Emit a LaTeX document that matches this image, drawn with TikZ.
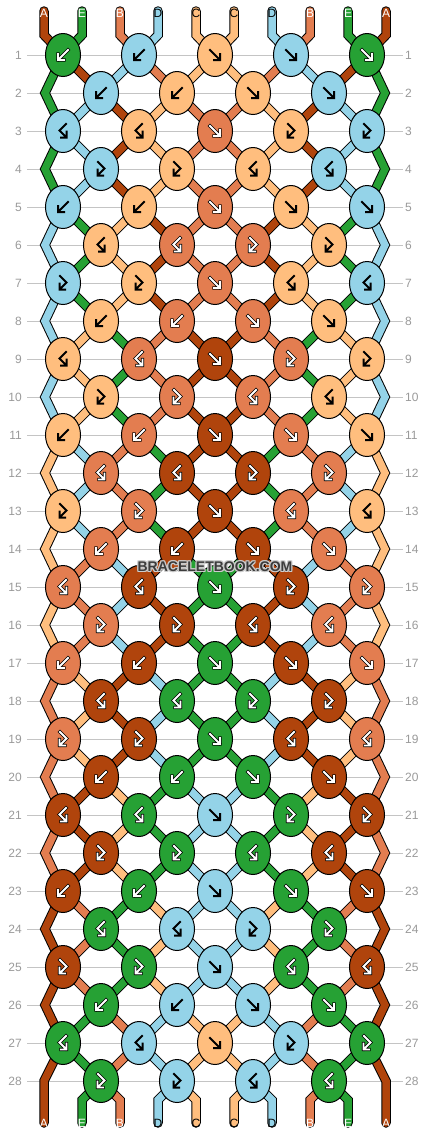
\documentclass[tikz,border=0pt]{standalone}
\usepackage{fontspec}
\setmainfont{Liberation Sans}
\usetikzlibrary{positioning,shapes.geometric}
\definecolor{colA}{HTML}{B0440C}
\definecolor{colE}{HTML}{26A134}
\definecolor{colB}{HTML}{E37D50}
\definecolor{colD}{HTML}{94D3E8}
\definecolor{colC}{HTML}{FFBE7E}
\definecolor{gridgray}{HTML}{C4C4C4}
\definecolor{numgray}{HTML}{9A9A9A}
\definecolor{brandgray}{HTML}{3C3C3C}
\tikzset{
  knot/.style={ellipse, draw=black, line width=1pt, minimum width=35pt, minimum height=43pt, inner sep=0pt},
  wireback/.style={draw=black, line width=9.5pt, line cap=round},
  wirefill/.style={draw=#1, line width=7.5pt, line cap=round},
  gridline/.style={draw=gridgray, line width=1pt},
  rownum/.style={text=numgray, inner sep=0pt, font=\fontsize{12}{12}\selectfont},
  tag/.style={inner sep=0pt, font=\fontsize{12}{12}\selectfont},
  tagA/.style={text=white}, tagE/.style={text=white}, tagB/.style={text=white},
  tagD/.style={text=black}, tagC/.style={text=black},
  lightink/.style={draw=white, line width=1.8pt, line cap=rect,
    preaction={draw=black, line width=3.4pt, line cap=rect}},
  darkink/.style={draw=black, line width=2pt, line cap=rect},
  inkA/.style={lightink}, inkE/.style={lightink}, inkB/.style={lightink},
  inkD/.style={darkink}, inkC/.style={darkink},
  brandtext/.style={inner sep=0pt, font=\bfseries\fontsize{14}{14}\selectfont}
}
\newcommand\glyphf{(-5,-5) -- (4.5,4.5) (5,-1) -- (5,5) -- (-1,5)}
\newcommand\glyphb{(5,-5) -- (-4.5,4.5) (-5,-1) -- (-5,5) -- (1,5)}
\newcommand\glyphfb{(-3,-7) -- (3.5,-0.5) -- (-3,6) (-3.5,0.5) -- (-3.5,6.5) -- (2,6.5)}
\newcommand\glyphbf{(3,-7) -- (-3.5,-0.5) -- (3,6) (3.5,0.5) -- (3.5,6.5) -- (-2,6.5)}
\newcommand\strands[1]{%
  \foreach \r/\s in {0/{A,E,B,D,C,C,D,B,E,A}, 1/{E,A,D,B,C,C,B,D,A,E},
      2/{E,D,A,C,B,B,C,A,D,E}, 3/{E,D,A,C,B,B,C,A,D,E}, 4/{E,D,A,C,B,B,C,A,D,E},
      5/{D,E,C,A,B,B,A,C,E,D}, 6/{D,E,C,A,B,B,A,C,E,D}, 7/{D,E,C,A,B,B,A,C,E,D},
      8/{D,C,E,B,A,A,B,E,C,D}, 9/{D,C,E,B,A,A,B,E,C,D}, 10/{D,C,E,B,A,A,B,E,C,D},
      11/{C,D,B,E,A,A,E,B,D,C}, 12/{C,D,B,E,A,A,E,B,D,C}, 13/{C,D,B,E,A,A,E,B,D,C},
      14/{C,B,D,A,E,E,A,D,B,C}, 15/{C,B,D,A,E,E,A,D,B,C}, 16/{C,B,D,A,E,E,A,D,B,C},
      17/{B,C,A,D,E,E,D,A,C,B}, 18/{B,C,A,D,E,E,D,A,C,B}, 19/{B,C,A,D,E,E,D,A,C,B},
      20/{B,A,C,E,D,D,E,C,A,B}, 21/{B,A,C,E,D,D,E,C,A,B}, 22/{B,A,C,E,D,D,E,C,A,B},
      23/{A,B,E,C,D,D,C,E,B,A}, 24/{A,B,E,C,D,D,C,E,B,A}, 25/{A,B,E,C,D,D,C,E,B,A},
      26/{A,E,B,D,C,C,D,B,E,A}, 27/{A,E,B,D,C,C,D,B,E,A}, 28/{A,E,B,D,C,C,D,B,E,A}}{%
    \pgfmathtruncatemacro\rp{\r-1}%
    \pgfmathtruncatemacro\rn{\r+1}%
    \pgfmathtruncatemacro\rodd{mod(\r,2)}%
    \foreach \c [count=\i from 0] in \s {%
      \pgfmathtruncatemacro\rim{(\i==0)||(\i==9)}%
      \ifnum\r=0
        \draw[#1=col\c] (44+38*\i,11) -- (p-0-\i) -- (p-1-\i);
      \else\ifnum\rim=1
        \ifnum\r=28
          \draw[#1=col\c] (p-27-\i) -- (p-28-\i) -- (44+38*\i,1123);
        \else\ifnum\rodd=0
          \draw[#1=col\c] (p-\rp-\i) -- (p-\r-\i) -- (p-\rn-\i);
        \fi\fi
      \else\ifnum\r=28
        \draw[#1=col\c] (p-28-\i) -- (p-29-\i) -- (44+38*\i,1123);
      \else
        \draw[#1=col\c] (p-\r-\i) -- (p-\rn-\i);
      \fi\fi\fi
    }%
  }%
}
\begin{document}
\begin{tikzpicture}[x=1pt, y=-1pt]
\fill[white] (0,0) rectangle (430,1136);
\useasboundingbox (0,0) rectangle (430,1136);

\foreach \r in {1,...,28}{
  \pgfmathsetmacro\yy{55+38*(\r-1)}
  \node[rownum, anchor=east] (num-l-\r) at (22,\yy) {\r};
  \node[rownum, anchor=west] (num-r-\r) at (405,\yy) {\r};
  \draw[gridline] ([xshift=5pt]num-l-\r.east) -- ([xshift=-2pt]num-r-\r.west);
  \foreach \i in {0,...,9}{
    \pgfmathsetmacro\xx{ifthenelse(mod(\r,2)==1, 63+76*floor(\i/2),
      ifthenelse(\i==0, 45, ifthenelse(\i==9, 385, 101+76*floor((\i-1)/2))))}
    \coordinate (p-\r-\i) at (\xx,\yy);
  }
}
\coordinate (p-28-0) at (44,1081);
\coordinate (p-28-9) at (386,1081);
\foreach \i in {0,...,9}{
  \coordinate (p-0-\i) at (44+38*\i,35);
  \coordinate (p-29-\i) at (44+38*\i,1100);
}

\strands{wireback}
\strands{wirefill}

\foreach \r/\row in {1/{E/b,D/b,C/f,D/f,E/f}, 2/{D/b,C/b,C/f,D/f},
    3/{D/bf,C/bf,B/f,C/fb,D/fb}, 4/{D/fb,C/fb,C/bf,D/bf},
    5/{D/b,C/b,B/f,C/f,D/f}, 6/{C/bf,B/bf,B/fb,C/fb},
    7/{D/fb,C/fb,B/f,C/bf,D/bf}, 8/{C/b,B/b,B/f,C/f},
    9/{C/bf,B/bf,A/f,B/fb,C/fb}, 10/{C/fb,B/fb,B/bf,C/bf},
    11/{C/b,B/b,A/f,B/f,C/f}, 12/{B/bf,A/bf,A/fb,B/fb},
    13/{C/fb,B/fb,A/f,B/bf,C/bf}, 14/{B/b,A/b,A/f,B/f},
    15/{B/bf,A/bf,E/f,A/fb,B/fb}, 16/{B/fb,A/fb,A/bf,B/bf},
    17/{B/b,A/b,E/f,A/f,B/f}, 18/{A/bf,E/bf,E/fb,A/fb},
    19/{B/fb,A/fb,E/f,A/bf,B/bf}, 20/{A/b,E/b,E/f,A/f},
    21/{A/bf,E/bf,D/f,E/fb,A/fb}, 22/{A/fb,E/fb,E/bf,A/bf},
    23/{A/b,E/b,D/f,E/f,A/f}, 24/{E/bf,D/bf,D/fb,E/fb},
    25/{A/fb,E/fb,D/f,E/bf,A/bf}, 26/{E/b,D/b,D/f,E/f},
    27/{E/bf,D/bf,C/f,D/fb,E/fb}, 28/{E/fb,D/fb,D/bf,E/bf}}{
  \pgfmathsetmacro\yy{55+38*(\r-1)}
  \pgfmathsetmacro\xo{ifthenelse(mod(\r,2)==1, 63, 101)}
  \foreach \c/\t [count=\k from 0] in \row {
    \node[knot, fill=col\c] (n-\r-\k) at (\xo+76*\k,\yy) {};
    \expandafter\let\expandafter\knotglyph\csname glyph\t\endcsname
    \draw[ink\c, shift={(n-\r-\k)}] \knotglyph;
  }
}

\foreach \c [count=\i from 0] in {A,E,B,D,C,C,D,B,E,A}{
  \node[tag, tag\c] (top-\i) at (44+38*\i,13) {\c};
  \node[tag, tag\c] (bot-\i) at (44+38*\i,1123) {\c};
}

\foreach \dx/\dy [count=\h] in {-1/0,1/0,0/-1,0/1,-1/-1,1/1,-1/1,1/-1}
  \node[brandtext, text=white!80!black] (halo-\h) at (215+\dx,567+\dy) {BRACELETBOOK.COM};
\node[brandtext, text=brandgray] (brand) at (215,567) {BRACELETBOOK.COM};
\end{tikzpicture}
\end{document}
